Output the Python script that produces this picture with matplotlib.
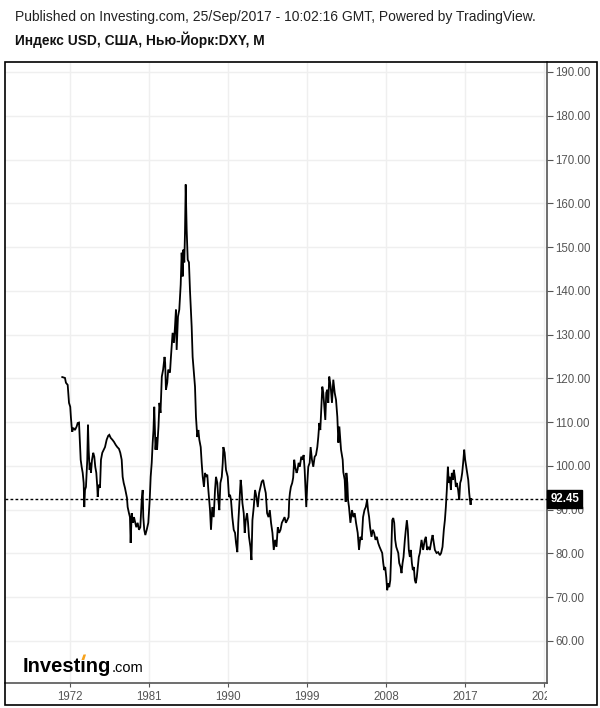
import numpy as np
import matplotlib
matplotlib.use('Agg')
import matplotlib.pyplot as plt
from matplotlib.patches import Rectangle, Polygon
from matplotlib.transforms import Bbox, TransformedBbox, blended_transform_factory

plt.rcParams['font.family'] = ['Liberation Sans', 'DejaVu Sans']

# --- data: DXY monthly-ish trace (decimal year, index) ---
years = [
    1971.12, 1971.43, 1971.54, 1971.74, 1971.81, 1971.89, 1972.03, 1972.11, 1972.19, 1972.26,
    1972.38, 1972.57, 1972.76, 1972.88, 1973.03, 1973.22, 1973.33, 1973.45, 1973.56, 1973.63,
    1973.71, 1973.82, 1973.97, 1974.05, 1974.13, 1974.24, 1974.31, 1974.39, 1974.51, 1974.65,
    1974.77, 1974.88, 1975.00, 1975.11, 1975.16, 1975.27, 1975.42, 1975.53, 1975.68, 1975.84,
    1975.99, 1976.18, 1976.36, 1976.48, 1976.64, 1976.82, 1977.01, 1977.21, 1977.39, 1977.58,
    1977.73, 1977.89, 1978.00, 1978.12, 1978.26, 1978.38, 1978.49, 1978.57, 1978.72, 1978.83,
    1978.91, 1979.03, 1979.18, 1979.29, 1979.44, 1979.55, 1979.71, 1979.86, 1980.01, 1980.17,
    1980.28, 1980.35, 1980.46, 1980.58, 1980.74, 1980.92, 1981.08, 1981.19, 1981.31, 1981.42,
    1981.51, 1981.60, 1981.74, 1981.85, 1981.92, 1982.08, 1982.19, 1982.31, 1982.46, 1982.61,
    1982.77, 1982.84, 1982.93, 1983.08, 1983.19, 1983.39, 1983.50, 1983.69, 1983.84, 1983.96,
    1984.07, 1984.15, 1984.30, 1984.45, 1984.61, 1984.72, 1984.84, 1984.91, 1985.02, 1985.10,
    1985.18, 1985.29, 1985.41, 1985.55, 1985.67, 1985.86, 1985.97, 1986.09, 1986.24, 1986.35,
    1986.50, 1986.62, 1986.73, 1986.89, 1987.00, 1987.12, 1987.26, 1987.38, 1987.49, 1987.64,
    1987.76, 1987.95, 1988.06, 1988.21, 1988.37, 1988.52, 1988.63, 1988.78, 1988.90, 1989.01,
    1989.13, 1989.29, 1989.40, 1989.47, 1989.62, 1989.77, 1989.97, 1990.11, 1990.23, 1990.34,
    1990.49, 1990.65, 1990.80, 1990.91, 1991.06, 1991.17, 1991.29, 1991.44, 1991.53, 1991.64,
    1991.79, 1991.90, 1992.02, 1992.17, 1992.28, 1992.39, 1992.55, 1992.67, 1992.78, 1992.93,
    1993.08, 1993.24, 1993.39, 1993.54, 1993.70, 1993.84, 1994.00, 1994.15, 1994.30, 1994.45,
    1994.61, 1994.76, 1994.90, 1995.06, 1995.21, 1995.36, 1995.52, 1995.67, 1995.82, 1995.98,
    1996.13, 1996.28, 1996.44, 1996.59, 1996.74, 1996.90, 1996.97, 1997.05, 1997.16, 1997.31,
    1997.42, 1997.54, 1997.65, 1997.81, 1997.92, 1998.04, 1998.18, 1998.34, 1998.50, 1998.61,
    1998.73, 1998.84, 1998.91, 1999.03, 1999.14, 1999.30, 1999.41, 1999.56, 1999.71, 1999.87,
    2000.02, 2000.17, 2000.28, 2000.40, 2000.51, 2000.62, 2000.74, 2000.85, 2000.97, 2001.08,
    2001.19, 2001.31, 2001.42, 2001.53, 2001.69, 2001.84, 2001.99, 2002.15, 2002.30, 2002.45,
    2002.57, 2002.68, 2002.87, 2003.06, 2003.13, 2003.29, 2003.40, 2003.48, 2003.59, 2003.67,
    2003.78, 2003.94, 2004.12, 2004.28, 2004.43, 2004.58, 2004.77, 2004.92, 2005.08, 2005.23,
    2005.38, 2005.54, 2005.69, 2005.84, 2005.95, 2006.07, 2006.18, 2006.34, 2006.49, 2006.64,
    2006.80, 2006.95, 2007.10, 2007.26, 2007.41, 2007.56, 2007.68, 2007.79, 2007.90, 2008.02,
    2008.13, 2008.25, 2008.36, 2008.48, 2008.59, 2008.70, 2008.82, 2008.93, 2009.04, 2009.16,
    2009.27, 2009.39, 2009.50, 2009.65, 2009.76, 2009.88, 2009.99, 2010.14, 2010.25, 2010.37,
    2010.48, 2010.59, 2010.71, 2010.82, 2010.94, 2011.05, 2011.16, 2011.28, 2011.39, 2011.50,
    2011.62, 2011.73, 2011.85, 2012.04, 2012.22, 2012.41, 2012.53, 2012.68, 2012.84, 2012.99,
    2013.18, 2013.30, 2013.44, 2013.56, 2013.75, 2013.93, 2014.13, 2014.27, 2014.43, 2014.58,
    2014.70, 2014.81, 2014.92, 2015.04, 2015.15, 2015.27, 2015.38, 2015.49, 2015.61, 2015.72,
    2015.84, 2015.95, 2016.06, 2016.21, 2016.33, 2016.44, 2016.55, 2016.67, 2016.78, 2016.90,
    2017.01, 2017.13, 2017.24, 2017.36, 2017.47, 2017.55, 2017.63, 2017.70,
]
dxy = [
    120.3, 120.1, 119.0, 118.5, 116.7, 114.4, 113.5, 111.0, 109.0, 107.8,
    108.7, 108.2, 109.0, 109.8, 109.9, 101.4, 99.8, 98.4, 96.1, 90.6,
    94.5, 95.2, 101.4, 109.4, 103.7, 99.1, 100.7, 98.4, 101.4, 103.0,
    102.1, 99.8, 98.4, 95.2, 92.9, 95.7, 95.0, 101.4, 103.0, 103.7,
    104.3, 106.0, 106.9, 107.1, 106.4, 106.0, 105.5, 104.8, 104.3, 103.9,
    103.0, 101.4, 97.5, 96.1, 95.0, 93.8, 92.7, 90.6, 89.2, 88.3,
    82.4, 89.2, 87.0, 88.3, 87.0, 86.0, 87.0, 85.4, 86.0, 92.2,
    94.5, 88.3, 85.4, 84.2, 85.4, 87.0, 92.2, 97.5, 100.7, 105.3,
    108.2, 113.5, 103.7, 106.6, 103.7, 109.0, 114.4, 112.1, 120.4, 122.0,
    124.9, 123.6, 117.4, 119.0, 122.0, 121.3, 124.9, 130.4, 128.1, 131.8,
    135.7, 126.5, 134.1, 135.7, 141.4, 148.7, 143.3, 149.4, 146.5, 153.3,
    164.3, 154.0, 147.1, 146.5, 140.0, 131.8, 124.9, 122.0, 118.1, 111.2,
    106.6, 108.2, 106.0, 104.3, 100.7, 97.5, 95.2, 98.4, 97.5, 98.0,
    94.5, 89.9, 85.4, 90.6, 88.3, 94.5, 97.5, 96.1, 92.2, 89.9,
    96.1, 97.5, 100.7, 104.3, 103.0, 99.1, 97.5, 92.9, 93.4, 92.2,
    88.3, 85.4, 84.7, 82.4, 80.3, 87.0, 91.5, 96.8, 95.2, 91.5,
    89.2, 84.7, 87.6, 89.2, 87.0, 83.8, 81.5, 78.5, 87.6, 90.6,
    94.5, 92.9, 90.6, 93.8, 95.2, 96.4, 96.8, 95.2, 93.8, 89.2,
    88.3, 89.9, 87.0, 84.7, 80.8, 83.1, 81.5, 86.0, 84.7, 85.4,
    87.0, 87.6, 88.3, 87.0, 87.6, 88.3, 92.2, 93.8, 95.2, 96.1,
    97.3, 101.4, 99.8, 98.4, 99.1, 100.7, 99.8, 102.1, 101.4, 102.5,
    99.1, 93.8, 90.6, 96.1, 99.8, 100.7, 104.3, 101.4, 99.8, 102.1,
    102.5, 104.3, 106.6, 109.8, 108.2, 112.8, 118.1, 116.7, 113.5, 110.5,
    116.7, 117.4, 114.4, 120.4, 118.1, 114.4, 119.7, 116.7, 115.1, 111.2,
    105.3, 109.0, 103.7, 101.4, 98.6, 96.8, 91.8, 98.4, 96.1, 92.2,
    90.6, 87.0, 89.9, 88.3, 89.2, 87.0, 84.7, 80.8, 83.8, 83.1,
    88.3, 89.9, 90.6, 92.2, 89.9, 88.3, 86.0, 83.8, 85.4, 84.7,
    83.1, 83.8, 82.4, 81.5, 80.8, 80.1, 77.8, 76.2, 76.9, 74.6,
    71.6, 73.2, 72.3, 73.9, 80.1, 87.6, 88.1, 87.0, 83.1, 81.5,
    80.8, 80.1, 77.8, 76.9, 75.5, 77.8, 79.2, 83.1, 85.4, 87.6,
    85.4, 80.8, 79.2, 80.8, 77.8, 76.2, 76.9, 73.9, 73.2, 74.6,
    76.9, 79.2, 80.1, 83.1, 80.8, 83.1, 83.8, 80.8, 81.5, 80.8,
    83.1, 84.2, 82.4, 80.8, 80.1, 80.3, 79.6, 80.1, 81.5, 85.4,
    87.6, 90.6, 94.5, 99.8, 96.1, 97.5, 94.5, 98.4, 96.8, 99.1,
    97.5, 95.2, 96.1, 94.5, 92.2, 96.1, 96.8, 98.4, 100.7, 103.7,
    101.4, 99.8, 98.4, 96.8, 93.8, 92.2, 91.1, 92.45,
]
last_value = 92.45
x_ticks = [1972, 1981, 1990, 1999, 2008, 2017, 2026]
x_labels = ['1972', '1981', '1990', '1999', '2008', '2017', '2026']
y_ticks = [60, 70, 80, 90, 100, 110, 120, 130, 140, 150, 160, 170, 180, 190]

W, H = 600, 708
fig = plt.figure(figsize=(W / 100, H / 100), dpi=100)
fig.patch.set_facecolor('white')

# plot area in pixels: x 5..547, y 62..683
ax = fig.add_axes([5 / W, (H - 683) / H, 542 / W, 621 / H])
ax.set_xlim(1964.60, 2026.33)
ax.set_ylim(50.4, 192.28)

ax.plot(years, dxy, color='black', lw=1.3, solid_joinstyle='miter', zorder=3)
ax.axhline(last_value, color='black', lw=1, linestyle=(0, (2, 1.6)), zorder=4)

ax.set_xticks(x_ticks)
ax.set_xticklabels(x_labels)
ax.set_yticks(y_ticks)
ax.set_yticklabels([f'{v:.2f}' for v in y_ticks])
ax.yaxis.tick_right()
ax.grid(True, color='#efefef', lw=1, zorder=0)
ax.set_axisbelow(True)

for s in ['left', 'top']:
    ax.spines[s].set_visible(False)
for s in ['right', 'bottom']:
    ax.spines[s].set_color('#555555')
    ax.spines[s].set_linewidth(1.2)

ax.tick_params(axis='y', which='both', length=4, width=0.8, color='#555555',
               labelsize=8.3, labelcolor='#555555', pad=2, right=True, left=False)
ax.tick_params(axis='x', which='both', length=3, width=0.8, color='#555555',
               labelsize=8.3, labelcolor='#555555', pad=3)

# clip x labels at the right axis line (the last one shows as "202")
clip = TransformedBbox(Bbox([[0, 0], [547 / W, 1]]), fig.transFigure)
for lab in ax.get_xticklabels():
    lab.set_clip_box(clip)
    lab.set_clip_on(True)

# current value marker on the price scale
trans = blended_transform_factory(ax.transAxes, ax.transData)
ax.text(1.006, last_value, f'{last_value:.2f}', transform=trans, ha='left', va='center',
        color='white', fontsize=8.3, fontweight='bold', zorder=6, clip_on=False,
        bbox=dict(boxstyle='square,pad=0.25', facecolor='black', edgecolor='black'))

# outer frame
fig.patches.append(Rectangle((5 / W, (H - 705) / H), 592 / W, 643 / H, transform=fig.transFigure,
                             fill=False, edgecolor='black', lw=1.2, zorder=10))

# header
fig.text(15 / W, 1 - 17 / H, 'Published on Investing.com, 25/Sep/2017 - 10:02:16 GMT, Powered by TradingView.',
         fontsize=10, color='#222222', va='center', ha='left')
fig.text(15 / W, 1 - 40 / H, 'Индекс USD, США, Нью-Йорк:DXY, M',
         fontsize=9.9, fontweight='bold', color='#111111', va='center', ha='left')

# logo
x0, yb = 23 / W, (H - 672) / H
t1 = fig.text(x0, yb, 'Investıng', fontsize=14.5, fontweight='bold', color='black',
              va='baseline', ha='left')
fig.canvas.draw()
r = fig.canvas.get_renderer()
bb1 = t1.get_window_extent(r)
fig.text(bb1.x1 / W + 0.5 / W, yb, '.com', fontsize=10.5, color='black', va='baseline', ha='left')
tmp = fig.text(x0, yb, 'Invest', fontsize=14.5, fontweight='bold', va='baseline', ha='left')
bb2 = tmp.get_window_extent(r)
tmp.remove()
cx = bb2.x1 + 1.6
cy = H - 660
fig.patches.append(Polygon([[(cx - 1.4) / W, cy / H], [(cx + 1.4) / W, cy / H],
                            [(cx + 3.2) / W, (cy + 5.5) / H], [(cx + 0.6) / W, (cy + 5.5) / H]],
                           closed=True, transform=fig.transFigure, facecolor='#f7a21b',
                           edgecolor='none', zorder=11))

fig.savefig('out.png', dpi=100)
